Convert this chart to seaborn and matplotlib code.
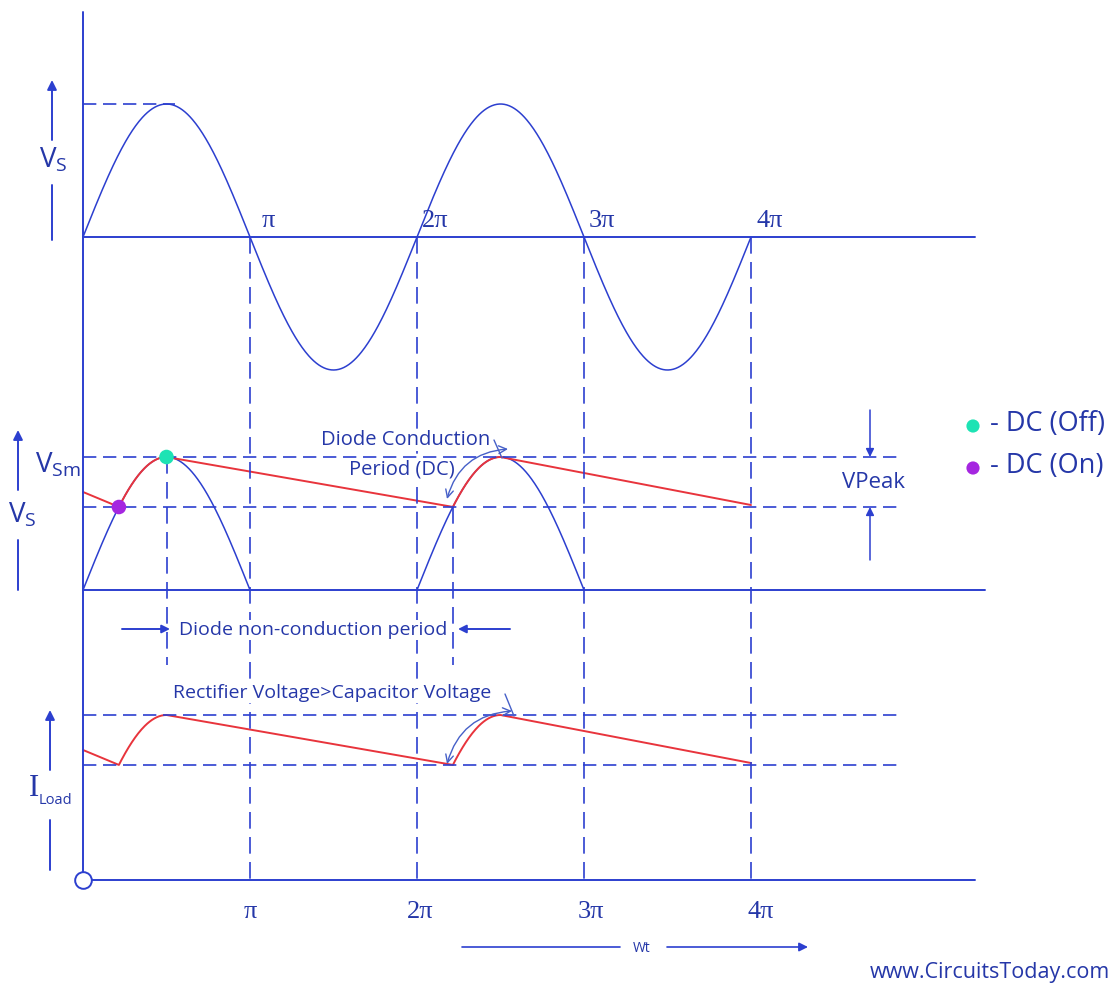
import numpy as np
import pandas as pd
import matplotlib
matplotlib.use("Agg")
import matplotlib.pyplot as plt
import seaborn as sns

# ---- data (x in units of pi, y in units of the peak voltage) ----
pi_ticks = [1, 2, 3, 4]
pi_labels = ["π", "2π", "3π", "4π"]
half_wave_humps = [(0, 1), (2, 3)]          # diode passes the positive halves
ripple_min = 0.624                          # capacitor voltage just before the diode turns on
t_on = [0.215, 2.215]                       # diode turns on
t_off = [0.5, 2.5]                          # diode turns off (peak)
cap_start = 0.737                           # capacitor voltage at t = 0
cap_end = 0.639                             # capacitor voltage at t = 4pi

# ---- layout ----
X0, PX_PER_PI = 83, 167
Y0, PX_PER_V = 237, 133
W, H = 1111, 988

def tx(p):
    return (p - X0) / PX_PER_PI

def ty(p):
    return -(p - Y0) / PX_PER_V

MID = ty(590)            # baseline of rectified panel
BOT = ty(880)            # baseline of load panel
BOT_RED = ty(715) - 1    # offset of the load current curve

BLUE = "#2c3fcf"
TEXT = "#2537a8"
RED = "#e8343c"
ARC = "#4660c8"
WHITE_BOX = dict(facecolor="white", edgecolor="none", pad=1)

sns.set_theme(style="white")
plt.rcParams["font.family"] = ["Open Sans", "DejaVu Sans"]
plt.rcParams["mathtext.default"] = "regular"

fig = plt.figure(figsize=(W / 100, H / 100), dpi=100)
ax = fig.add_axes([0, 0, 1, 1])
ax.set_xlim(tx(0), tx(W))
ax.set_ylim(ty(H), ty(0))
ax.axis("off")

# ---- source sine wave ----
t = np.linspace(0, 4, 800)
src = pd.DataFrame({"t": t, "v": np.sin(np.pi * t)})
sns.lineplot(data=src, x="t", y="v", ax=ax, color=BLUE, lw=1.1, sort=False)

# ---- half-wave rectified output ----
for a, b in half_wave_humps:
    th = np.linspace(a, b, 300)
    sns.lineplot(x=th, y=np.sin(np.pi * th) + MID, ax=ax, color=BLUE, lw=1.1, sort=False)

# ---- capacitor voltage (red) ----
seg_t, seg_v = [], []
th = np.linspace(0, t_on[0], 20)
seg_t.append(th); seg_v.append(np.interp(th, [0, t_on[0]], [cap_start, ripple_min]))
for i in range(2):
    th = np.linspace(t_on[i], t_off[i], 60)
    seg_t.append(th); seg_v.append(np.sin(np.pi * th))
    end_t = t_on[1] if i == 0 else 4.0
    end_v = ripple_min if i == 0 else cap_end
    th = np.linspace(t_off[i], end_t, 40)
    seg_t.append(th); seg_v.append(np.interp(th, [t_off[i], end_t], [1.0, end_v]))
cap_t = np.concatenate(seg_t)
cap_v = np.concatenate(seg_v)
sns.lineplot(x=cap_t, y=cap_v + MID, ax=ax, color=RED, lw=1.4, sort=False)
sns.lineplot(x=cap_t, y=cap_v + BOT_RED, ax=ax, color=RED, lw=1.4, sort=False)

# on / off dots
sns.scatterplot(x=[t_off[0]], y=[1 + MID], ax=ax, color="#1de3b4", s=110, edgecolor="none", zorder=5)
sns.scatterplot(x=[t_on[0]], y=[ripple_min + MID], ax=ax, color="#a526e0", s=110, edgecolor="none", zorder=5)

# ---- axes lines ----
ax.plot([0, 0], [ty(12), BOT], color=BLUE, lw=1.4)
ax.plot([0, tx(975)], [0, 0], color=BLUE, lw=1.4)
ax.plot([0, tx(985)], [MID, MID], color=BLUE, lw=1.4)
ax.plot([0, tx(975)], [BOT, BOT], color=BLUE, lw=1.4)
ax.plot([0], [BOT], marker="o", ms=12, mfc="white", mec=BLUE, mew=1.4, zorder=6)

# ---- dashed guides ----
dash = dict(color=BLUE, lw=1.2, dashes=(8, 4))
vdash = dict(color=BLUE, lw=1.2, dashes=(10, 5))
ax.plot([0, tx(175)], [1, 1], **dash)
ax.plot([0, tx(900)], [MID + 1, MID + 1], **dash)
ax.plot([0, tx(900)], [MID + ripple_min, MID + ripple_min], **dash)
ax.plot([0, tx(900)], [BOT_RED + 1, BOT_RED + 1], **dash)
ax.plot([0, tx(900)], [BOT_RED + ripple_min, BOT_RED + ripple_min], **dash)
for k in pi_ticks:
    ax.plot([k, k], [0, BOT], **vdash)
ax.plot([t_off[0], t_off[0]], [MID + 1, ty(665)], **vdash)
ax.plot([t_on[1], t_on[1]], [MID + ripple_min, ty(665)], **vdash)

# ---- pi labels ----
serif = ["Liberation Serif", "DejaVu Serif"]
for k, lab in zip(pi_ticks, pi_labels):
    ax.text(k + 0.11, ty(221), lab, family=serif, fontsize=19, color=TEXT, ha="center", va="center")
    ax.text(k + 0.02 * (k - 1), ty(912), lab, family=serif, fontsize=19, color=TEXT, ha="center", va="center")

# ---- arrows helper ----
def arrow(x1, y1, x2, y2, head=True, color=BLUE, lw=1.4, ms=14):
    ax.annotate("", xy=(x2, y2), xytext=(x1, y1),
                arrowprops=dict(arrowstyle="-|>" if head else "-", color=color, lw=lw,
                                mutation_scale=ms, shrinkA=0, shrinkB=0))

# left-hand quantity arrows
arrow(tx(52), ty(240), tx(52), ty(185), head=False)
arrow(tx(52), ty(140), tx(52), ty(80))
ax.text(tx(53), ty(160), "$V_S$", fontsize=20, color=TEXT, ha="center", va="center")

arrow(tx(18), ty(590), tx(18), ty(540), head=False)
arrow(tx(18), ty(490), tx(18), ty(430))
ax.text(tx(22), ty(515), "$V_S$", fontsize=20, color=TEXT, ha="center", va="center")
ax.text(tx(58), ty(465), "$V_{Sm}$", fontsize=20, color=TEXT, ha="center", va="center")

arrow(tx(50), ty(870), tx(50), ty(820), head=False)
arrow(tx(50), ty(770), tx(50), ty(710))
ax.text(tx(34), ty(788), "I", family=serif, fontsize=22, color=TEXT, ha="center", va="center")
ax.text(tx(39), ty(800), "Load", fontsize=10.5, color=TEXT, ha="left", va="center")

# VPeak
arrow(tx(870), ty(410), tx(870), ty(457), ms=12, lw=1.1)
arrow(tx(870), ty(560), tx(870), ty(507), ms=12, lw=1.1)
ax.text(tx(873), ty(482), "VPeak", fontsize=16, color=TEXT, ha="center", va="center")

# legend
sns.scatterplot(x=[tx(973)], y=[ty(426)], ax=ax, color="#1de3b4", s=90, edgecolor="none")
sns.scatterplot(x=[tx(973)], y=[ty(468)], ax=ax, color="#a526e0", s=90, edgecolor="none")
ax.text(tx(990), ty(424), "- DC (Off)", fontsize=19.5, color=TEXT, ha="left", va="center")
ax.text(tx(990), ty(466), "- DC (On)", fontsize=19.5, color=TEXT, ha="left", va="center")

# diode conduction / non-conduction
ax.text(tx(406), ty(440), "Diode Conduction", fontsize=14.5, color=TEXT, ha="center", va="center",
        bbox=WHITE_BOX, zorder=4)
ax.text(tx(402), ty(469), "Period (DC)", fontsize=14.5, color=TEXT, ha="center", va="center",
        bbox=WHITE_BOX, zorder=4)
ax.annotate("", xy=(tx(447), ty(499)), xytext=(tx(508), ty(449)),
            arrowprops=dict(arrowstyle="<->", color=ARC, lw=1.0, mutation_scale=14,
                            connectionstyle="arc3,rad=0.35", shrinkA=0, shrinkB=0), zorder=5)
ax.plot([tx(494), tx(502)], [ty(440), ty(458)], color=ARC, lw=1.0)

arrow(tx(122), ty(629), tx(170), ty(629), ms=12)
arrow(tx(510), ty(629), tx(458), ty(629), ms=12)
ax.text(tx(179), ty(630), "Diode non-conduction period", fontsize=14, color=TEXT, ha="left", va="center",
        bbox=WHITE_BOX, zorder=4)

ax.text(tx(332), ty(693), "Rectifier Voltage>Capacitor Voltage", fontsize=14, color=TEXT,
        ha="center", va="center", bbox=WHITE_BOX, zorder=4)
ax.annotate("", xy=(tx(447), ty(764)), xytext=(tx(512), ty(711)),
            arrowprops=dict(arrowstyle="<->", color=ARC, lw=1.0, mutation_scale=14,
                            connectionstyle="arc3,rad=0.35", shrinkA=0, shrinkB=0), zorder=5)
ax.plot([tx(505), tx(514)], [ty(694), ty(716)], color=ARC, lw=1.0)

# wt axis arrow
arrow(tx(462), ty(947), tx(620), ty(947), head=False, lw=1.2)
arrow(tx(667), ty(947), tx(808), ty(947), lw=1.2, ms=13)
ax.text(tx(642), ty(948), "Wt", fontsize=10, color=TEXT, ha="center", va="center")

ax.text(tx(1110), ty(972), "www.CircuitsToday.com", fontsize=15.5, color=TEXT, ha="right", va="center")

fig.savefig("out.png", dpi=100, facecolor="white")
